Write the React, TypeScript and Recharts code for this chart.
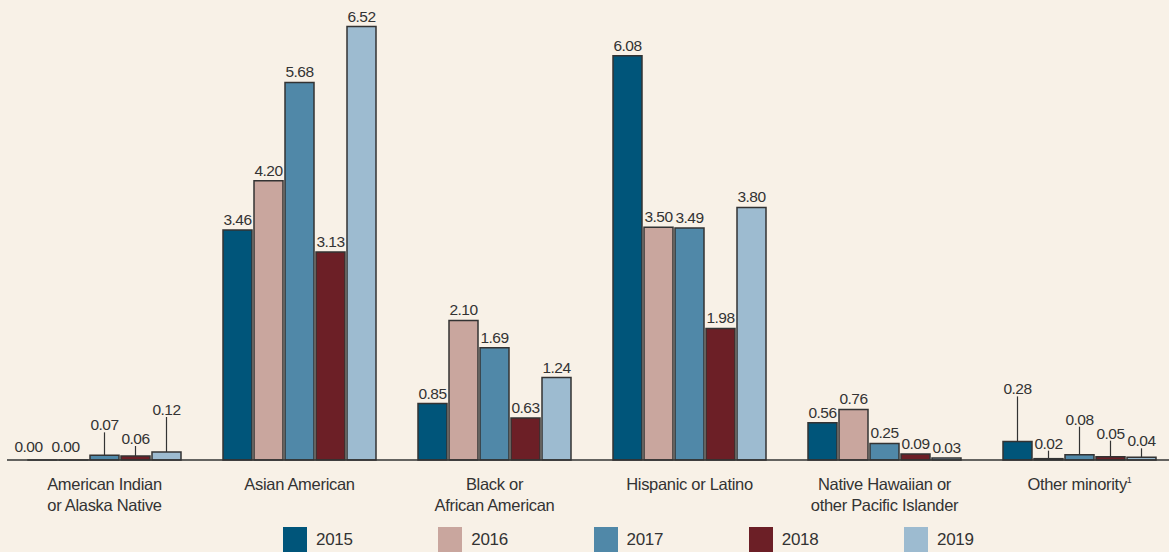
import React from 'react';
import { BarChart, Bar, XAxis, YAxis, LabelList } from 'recharts';

const categories = [
  'American Indian|or Alaska Native',
  'Asian American',
  'Black or|African American',
  'Hispanic or Latino',
  'Native Hawaiian or|other Pacific Islander',
  'Other minority¹',
];
const years = ['2015', '2016', '2017', '2018', '2019'];
const v2015 = [0.0, 3.46, 0.85, 6.08, 0.56, 0.28];
const v2016 = [0.0, 4.2, 2.1, 3.5, 0.76, 0.02];
const v2017 = [0.07, 5.68, 1.69, 3.49, 0.25, 0.08];
const v2018 = [0.06, 3.13, 0.63, 1.98, 0.09, 0.05];
const v2019 = [0.12, 6.52, 1.24, 3.8, 0.03, 0.04];

const colors: Record<string, string> = {
  '2015': '#00557a',
  '2016': '#c9a69e',
  '2017': '#5088a8',
  '2018': '#6c1f26',
  '2019': '#9dbbd0',
};

// how high above the bar top the label sits, for the ones with a leader line
const leaders: Record<string, Record<number, number>> = {
  '2015': { 5: 47 },
  '2016': { 5: 10 },
  '2017': { 0: 25, 5: 30 },
  '2018': { 0: 12, 5: 18 },
  '2019': { 0: 37, 5: 11 },
};
// sideways nudge for the two zero labels so they don't collide
const nudges: Record<string, Record<number, number>> = {
  '2015': { 0: -14 },
  '2016': { 0: -8 },
  '2017': {},
  '2018': {},
  '2019': {},
};

const font = '"Liberation Sans Narrow", "Arial Narrow", "Liberation Sans", sans-serif';
const ink = '#333333';

const series = [v2015, v2016, v2017, v2018, v2019];
const data = categories.map((c, i) => {
  const row: any = { name: c };
  years.forEach((y, j) => (row[y] = series[j][i]));
  return row;
});

const makeLabel = (year: string) => (props: any) => {
  const { x, y, width, height, value } = props;
  let idx = props.index;
  if (props.payload && props.payload.name) idx = categories.indexOf(props.payload.name);
  const cx = x + width / 2 + (nudges[year][idx] || 0);
  const lift = leaders[year][idx];
  const txt = Number(value).toFixed(2);
  const top = Math.min(y, y + (height || 0));
  const t = { textAnchor: 'middle' as const, fontSize: 15.5, fill: ink, fontFamily: font, letterSpacing: -0.5 };
  if (lift) {
    return (
      <g>
        <line x1={cx} x2={cx} y1={top} y2={top - lift + 2} stroke={ink} strokeWidth={1.2} />
        <text x={cx} y={top - lift} {...t}>
          {txt}
        </text>
      </g>
    );
  }
  return (
    <text x={cx} y={top - (value === 0 ? 8 : 5)} {...t}>
      {txt}
    </text>
  );
};

const CatTick = (props: any) => {
  const { x, y, payload } = props;
  const lines = String(payload.value).split('|');
  return (
    <g>
      {lines.map((l, i) => {
        const sup = l.endsWith('¹');
        return (
          <text
            key={i}
            x={x}
            y={y + 22 + i * 21}
            textAnchor="middle"
            fontSize={16.5}
            fill={ink}
            fontFamily={font}
            letterSpacing={-0.3}
          >
            {sup ? l.slice(0, -1) : l}
            {sup && (
              <tspan fontSize={9} dy={-7}>
                1
              </tspan>
            )}
          </text>
        );
      })}
    </g>
  );
};

export default function App() {
  return (
    <div
      style={{
        position: 'absolute',
        left: 0,
        top: 0,
        width: 1169,
        height: 552,
        overflow: 'hidden',
        background: '#f8f1e7',
      }}
    >
      <BarChart
        width={1177}
        height={552}
        data={data}
        margin={{ top: 8, right: 0, left: 7, bottom: 0 }}
        barSize={29}
        barGap={2}
      >
        <XAxis
          dataKey="name"
          interval={0}
          tickLine={false}
          axisLine={{ stroke: ink, strokeWidth: 1.5 }}
          tick={<CatTick />}
          height={92}
        />
        <YAxis hide domain={[0, 6.8]} />
        {years.map((y) => (
          <Bar
            key={y}
            dataKey={y}
            fill={colors[y]}
            stroke={ink}
            strokeWidth={1.5}
            minPointSize={0.01}
            isAnimationActive={false}
          >
            <LabelList dataKey={y} content={makeLabel(y)} />
          </Bar>
        ))}
      </BarChart>
      <div style={{ position: 'absolute', left: 283, top: 527, display: 'flex', fontFamily: font }}>
        {years.map((y) => (
          <div key={y} style={{ width: 155.25, display: 'flex', alignItems: 'center' }}>
            <div style={{ width: 24, height: 25, background: colors[y] }} />
            <span style={{ marginLeft: 9, fontSize: 17, color: ink, letterSpacing: -0.3 }}>{y}</span>
          </div>
        ))}
      </div>
    </div>
  );
}
